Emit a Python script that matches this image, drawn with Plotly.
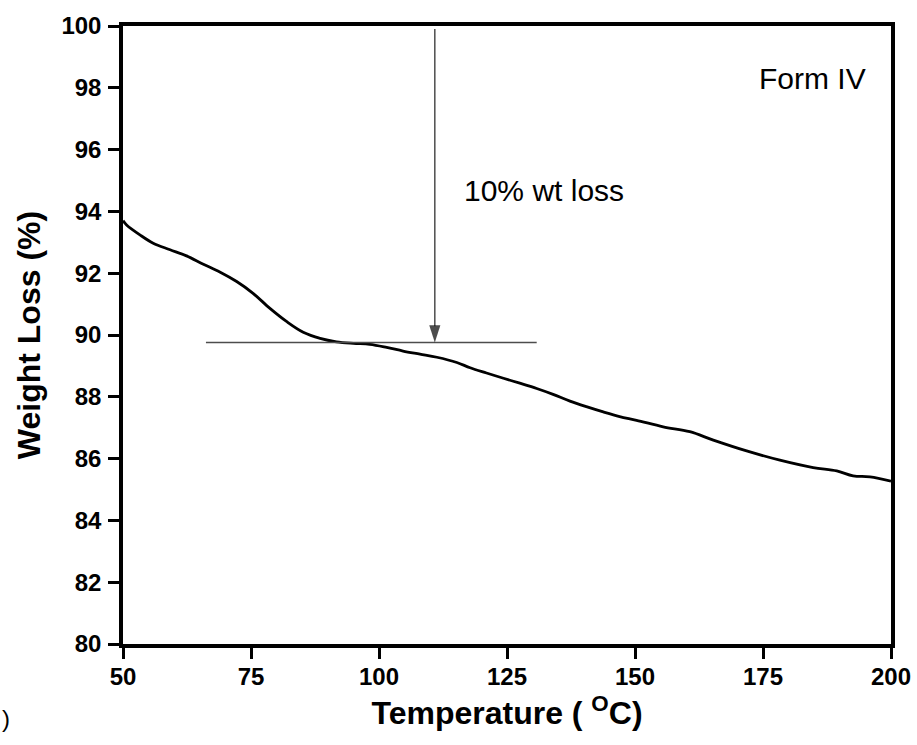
import plotly.graph_objects as go

# Data
temperature = [50, 50.7, 53.3, 55.9, 59.2, 62.4, 65.7, 68.9, 72.2, 75.4, 78.7, 82.0, 85.2,
               88.5, 91.7, 95.0, 98.2, 101.5, 104.7, 108.0, 111.3, 115.2, 117.8, 121.0,
               124.3, 127.5, 130.8, 134.0, 137.3, 140.5, 143.8, 147.0, 150.3, 155.5, 160.7,
               165.3, 171.8, 178.3, 184.8, 189.4, 192.6, 195.9, 200]
weight = [93.7, 93.56, 93.24, 92.97, 92.76, 92.56, 92.29, 92.04, 91.73, 91.35, 90.86, 90.43,
          90.09, 89.89, 89.78, 89.73, 89.70, 89.60, 89.48, 89.38, 89.28, 89.11, 88.94, 88.77,
          88.60, 88.44, 88.27, 88.08, 87.86, 87.68, 87.51, 87.36, 87.24, 87.03, 86.87, 86.60,
          86.25, 85.95, 85.71, 85.60, 85.44, 85.41, 85.27]

ref_line_x = [66.2, 130.8]
ref_line_y = [89.76, 89.76]
arrow_x = [110.9, 110.9]
arrow_y = [99.9, 89.76]

x_ticks = [50, 75, 100, 125, 150, 175, 200]
y_ticks = [80, 82, 84, 86, 88, 90, 92, 94, 96, 98, 100]

FONT = "Arial, Liberation Sans, sans-serif"

fig = go.Figure()
fig.add_trace(go.Scatter(x=temperature, y=weight, mode="lines",
                         line=dict(color="black", width=2.8), line_shape="spline",
                         showlegend=False, hoverinfo="skip"))
fig.add_trace(go.Scatter(x=ref_line_x, y=ref_line_y, mode="lines",
                         line=dict(color="#4d4d4d", width=1.5),
                         showlegend=False, hoverinfo="skip"))
fig.add_trace(go.Scatter(x=arrow_x, y=arrow_y, mode="lines+markers",
                         line=dict(color="#4d4d4d", width=1.5),
                         marker=dict(symbol="arrow", angleref="previous", size=[0, 18],
                                     color="black", line=dict(width=0)),
                         showlegend=False, hoverinfo="skip"))

fig.add_annotation(x=116.2, y=94.67, xref="x", yref="y", text="10% wt loss",
                   showarrow=False, xanchor="left", yanchor="middle",
                   font=dict(family=FONT, size=30, color="black"))
fig.add_annotation(x=195.5, y=98.3, xref="x", yref="y", text="Form IV",
                   showarrow=False, xanchor="right", yanchor="middle",
                   font=dict(family=FONT, size=30, color="black"))
fig.add_annotation(x=-123/768, y=-0.121, xref="paper", yref="paper", text=")",
                   showarrow=False, xanchor="left", yanchor="middle",
                   font=dict(family=FONT, size=24, color="black"))

axis_common = dict(showline=True, linecolor="black", linewidth=3.5, mirror=True,
                   ticks="outside", ticklen=11, tickwidth=3, tickcolor="black",
                   showgrid=False, zeroline=False, automargin=False,
                   tickfont=dict(family=FONT, size=24, color="black", weight="bold"))

fig.update_xaxes(range=[50, 200], tickvals=x_ticks, ticktext=[str(v) for v in x_ticks],
                 ticklabelstandoff=-3,
                 title=dict(text="Temperature ( <sup>O</sup>C)", standoff=14,
                            font=dict(family=FONT, size=32, color="black", weight="bold")),
                 **axis_common)
fig.update_yaxes(range=[80, 100], tickvals=y_ticks, ticktext=[str(v) for v in y_ticks],
                 ticklabelstandoff=2,
                 title=dict(text="Weight Loss (%)", standoff=12,
                            font=dict(family=FONT, size=32, color="black", weight="bold")),
                 **axis_common)

fig.update_layout(width=917, height=745, plot_bgcolor="white", paper_bgcolor="white",
                  margin=dict(l=123, r=26, t=26, b=101), showlegend=False)

fig.write_html("out.html")
